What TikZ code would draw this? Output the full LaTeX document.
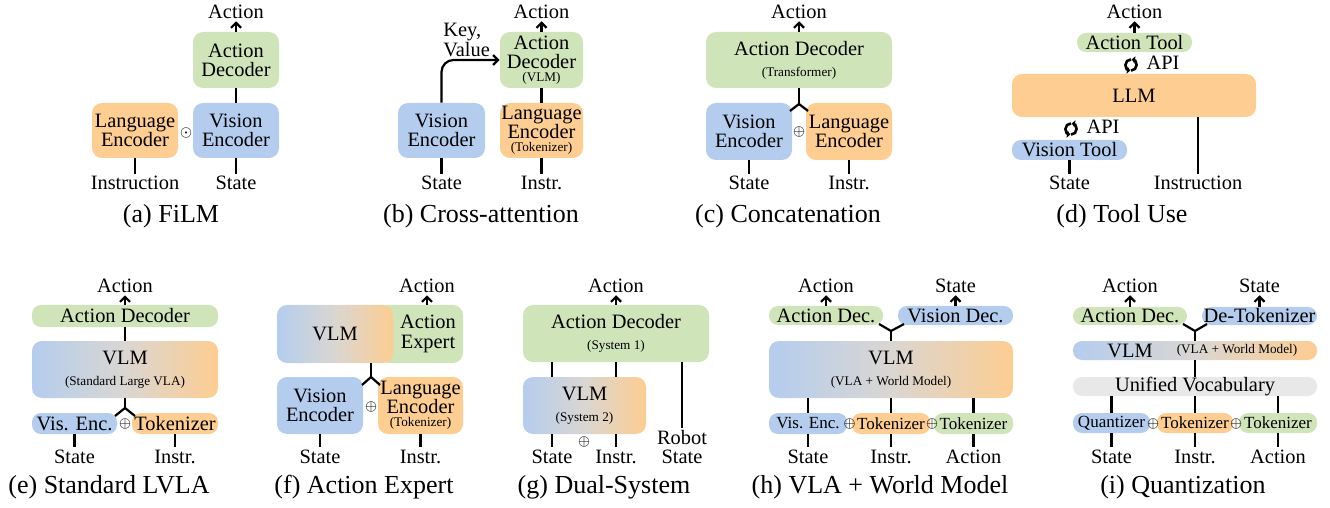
\documentclass[tikz,border=0pt]{standalone}
\usepackage{fontspec}
\setmainfont{Liberation Serif}
\usetikzlibrary{arrows.meta}
\definecolor{grn}{RGB}{208,228,186}
\definecolor{blu}{RGB}{180,205,238}
\definecolor{ora}{RGB}{253,205,145}
\definecolor{mid}{RGB}{218,214,210}
\definecolor{gry}{RGB}{232,232,232}
\newcommand\bxfont{\fontsize{10.2}{9.6}\selectfont}
\newcommand\smfont{\fontsize{8.5}{9}\selectfont}
\newcommand\sbfont{\fontsize{6.6}{7}\selectfont}
\newcommand\cpfont{\fontsize{13}{14}\selectfont}
\newcommand\opfont{\fontsize{7}{7}\selectfont}
\tikzset{
    %Define standard arrow tip
    >={Straight Barb[length=2.5pt,width=5pt]},
    %Define style for boxes
    blok/.style={
           rectangle,
           rounded corners=5pt,
           inner sep=0pt,
           align=center,
           font=\bxfont},
    pill/.style={
           blok,
           rounded corners=4.5pt},
    vlm/.style={
           left color=blu,
           right color=ora,
           middle color=mid},
    smtxt/.style={font=\smfont},
    lbl/.style={inner sep=1pt, align=center, font=\bxfont},
    capt/.style={inner sep=0pt, font=\cpfont},
    op/.style={inner sep=0pt, font=\opfont},
    % Define line styles
    lin/.style={line width=1.1pt},
    pil/.style={->, line width=1.1pt},
    icon/.style={x=1pt, y=1pt, line width=1.3pt, -{Triangle[length=1.6pt,width=3.6pt]}},
    refresh/.pic={
           \draw [icon] (90:2.8) arc (90:262:2.8);
           \draw [icon] (270:2.8) arc (270:442:2.8);}
}
\begin{document}
\begin{tikzpicture}[x=0.5pt,y=-0.5pt]
    \useasboundingbox (0,0) rectangle (1330,508);
    % (a)
    \node (a-dec) [blok, fill=grn, minimum width=43pt, minimum height=28pt] at (236,60) {Action\\Decoder};
    \node (a-vis) [blok, fill=blu, minimum width=43pt, minimum height=27.5pt] at (236,130.5) {Vision\\Encoder};
    \node (a-lang) [blok, fill=ora, minimum width=43pt, minimum height=27.5pt] at (135,130.5) {Language\\Encoder};
    \node (a-op) [op] at (186,133) {$\odot$};
    \node (a-act) [lbl] at (236,12) {Action};
    \node (a-state) [lbl] at (236,183) {State};
    \node (a-ins) [lbl] at (135,183) {Instruction};
    \node (a-cap) [capt] at (171,216) {(a) FiLM};
    \draw [pil] (a-dec) -- (a-act);
    \draw [lin] (a-vis) -- (a-dec);
    \draw [lin] (a-state) -- (a-vis);
    \draw [lin] (a-ins) -- (a-lang);
    % (b)
    \node (b-dec) [blok, fill=grn, minimum width=41.5pt, minimum height=28pt] at (541.5,60)
          {Action\\Decoder\\[-3pt]{\sbfont(VLM)}};
    \node (b-lang) [blok, fill=ora, minimum width=41.5pt, minimum height=27.5pt] at (541.5,130.5)
          {Language\\Encoder\\[-3pt]{\sbfont(Tokenizer)}};
    \node (b-vis) [blok, fill=blu, minimum width=43.5pt, minimum height=27.5pt] at (441.5,130.5) {Vision\\Encoder};
    \node (b-kv) [lbl, anchor=west, align=left, inner sep=0pt] at (443,40) {Key,\\Value};
    \node (b-act) [lbl] at (541.5,12) {Action};
    \node (b-state) [lbl] at (441.5,183) {State};
    \node (b-ins) [lbl] at (541.5,183) {Instr.};
    \node (b-cap) [capt] at (481,216) {(b) Cross-attention};
    \draw [pil] (b-dec) -- (b-act);
    \draw [lin] (b-lang) -- (b-dec);
    \draw [lin] (b-state) -- (b-vis);
    \draw [lin] (b-ins) -- (b-lang);
    \draw [pil, rounded corners=6pt] (b-vis) |- (b-dec);
    % (c)
    \node (c-dec) [blok, fill=grn, minimum width=93pt, minimum height=28pt] at (799,60)
          {Action Decoder\\[1pt]{\sbfont(Transformer)}};
    \node (c-vis) [blok, fill=blu, minimum width=43pt, minimum height=28.5pt] at (749,131.5) {Vision\\Encoder};
    \node (c-lang) [blok, fill=ora, minimum width=43pt, minimum height=28.5pt] at (849,131.5) {Language\\Encoder};
    \node (c-op) [op] at (799,132) {$\oplus$};
    \coordinate (c-fork) at (799,104);
    \coordinate (c-l) at (790,111);
    \coordinate (c-r) at (808,111);
    \node (c-act) [lbl] at (799,12) {Action};
    \node (c-state) [lbl] at (749,183) {State};
    \node (c-ins) [lbl] at (849,183) {Instr.};
    \node (c-cap) [capt] at (788,216) {(c) Concatenation};
    \draw [pil] (c-dec) -- (c-act);
    \draw [lin] (c-dec) -- (c-fork);
    \draw [lin] (c-l) -- (c-fork) -- (c-r);
    \draw [lin] (c-state) -- (c-vis);
    \draw [lin] (c-ins) -- (c-lang);
    % (d)
    \node (d-tool) [pill, fill=grn, minimum width=57.5pt, minimum height=9.5pt] at (1134.5,42.5) {Action Tool};
    \node (d-llm) [blok, fill=ora, minimum width=122pt, minimum height=21.5pt] at (1134,95.5) {LLM};
    \node (d-vtool) [pill, fill=blu, minimum width=57.5pt, minimum height=10pt] at (1069.5,150) {Vision Tool};
    \pic at (1131,65) {refresh};
    \node (d-api1) [lbl] at (1163,63) {API};
    \pic at (1071,129) {refresh};
    \node (d-api2) [lbl] at (1103,127) {API};
    \node (d-act) [lbl] at (1134.5,12) {Action};
    \node (d-state) [lbl] at (1069.5,183) {State};
    \node (d-ins) [lbl] at (1198,183) {Instruction};
    \node (d-cap) [capt] at (1122,216) {(d) Tool Use};
    \draw [pil] (d-tool) -- (d-act);
    \draw [lin] (d-state) -- (d-vtool);
    \draw [lin] (d-ins) -- (d-ins |- d-llm.south);
    % (e)
    \node (e-dec) [pill, fill=grn, minimum width=93pt, minimum height=11pt] at (125,316) {Action Decoder};
    \node (e-vlm) [blok, vlm, minimum width=93pt, minimum height=28.5pt] at (125,369.5)
          {VLM\\[1pt]{\sbfont(Standard Large VLA)}};
    \node (e-vis) [pill, fill=blu, minimum width=42.5pt, minimum height=10.5pt] at (74.5,423.5) {Vis. Enc.};
    \node (e-tok) [pill, fill=ora, minimum width=43pt, minimum height=10.5pt] at (175,423.5) {Tokenizer};
    \node (e-op) [op] at (125,424) {$\oplus$};
    \coordinate (e-fork) at (125,408);
    \coordinate (e-l) at (115,416);
    \coordinate (e-r) at (135,416);
    \node (e-act) [lbl] at (125,286) {Action};
    \node (e-state) [lbl] at (74.5,456.5) {State};
    \node (e-ins) [lbl] at (175,456.5) {Instr.};
    \node (e-cap) [capt] at (109,487) {(e) Standard LVLA};
    \draw [pil] (e-dec) -- (e-act);
    \draw [lin] (e-vlm) -- (e-dec);
    \draw [lin] (e-vlm) -- (e-fork);
    \draw [lin] (e-l) -- (e-fork) -- (e-r);
    \draw [lin] (e-state) -- (e-vis);
    \draw [lin] (e-ins) -- (e-tok);
    % (f)
    \node (f-exp) [blok, fill=grn, minimum width=42.5pt, minimum height=29pt,
          label={[lbl, xshift=3.75pt]center:Action\\Expert}] at (420.5,334) {};
    \node (f-vlm) [blok, vlm, minimum width=58pt, minimum height=29pt] at (335,334) {VLM};
    \node (f-vis) [blok, fill=blu, minimum width=43pt, minimum height=28.5pt] at (320,405.5) {Vision\\Encoder};
    \node (f-lang) [blok, fill=ora, minimum width=42.5pt, minimum height=28.5pt] at (420.5,405.5)
          {Language\\Encoder\\[-3pt]{\sbfont(Tokenizer)}};
    \node (f-op) [op] at (371,407) {$\oplus$};
    \coordinate (f-fork) at (371,377);
    \coordinate (f-l) at (362,385);
    \coordinate (f-r) at (380,385);
    \node (f-act) [lbl] at (427,286) {Action};
    \node (f-state) [lbl] at (320,456.5) {State};
    \node (f-ins) [lbl] at (420.5,456.5) {Instr.};
    \node (f-cap) [capt] at (364,487) {(f) Action Expert};
    \draw [pil] (f-act |- f-exp.north) -- (f-act);
    \draw [lin] (f-fork |- f-vlm.south) -- (f-fork);
    \draw [lin] (f-l) -- (f-fork) -- (f-r);
    \draw [lin] (f-state) -- (f-vis);
    \draw [lin] (f-ins) -- (f-lang);
    % (g)
    \node (g-dec) [blok, fill=grn, minimum width=93pt, minimum height=28.5pt] at (616,333.5)
          {Action Decoder\\[1pt]{\sbfont(System 1)}};
    \node (g-vlm) [blok, vlm, minimum width=61.5pt, minimum height=28.5pt] at (584.5,405.5)
          {VLM\\[1pt]{\sbfont(System 2)}};
    \node (g-op) [op] at (584,442) {$\oplus$};
    \node (g-act) [lbl] at (616,286) {Action};
    \node (g-state) [lbl] at (552,456.5) {State};
    \node (g-ins) [lbl] at (616,456.5) {Instr.};
    \node (g-rob) [lbl] at (682,447) {Robot\\State};
    \node (g-cap) [capt] at (604,487) {(g) Dual-System};
    \draw [pil] (g-dec) -- (g-act);
    \draw [lin] (g-state) -- (g-state |- g-vlm.south);
    \draw [lin] (g-state |- g-vlm.north) -- (g-state |- g-dec.south);
    \draw [lin] (g-ins) -- (g-ins |- g-vlm.south);
    \draw [lin] (g-ins |- g-vlm.north) -- (g-ins |- g-dec.south);
    \draw [lin] (g-rob) -- (g-rob |- g-dec.south);
    % (h)
    \node (h-adec) [pill, fill=grn, minimum width=57pt, minimum height=9.5pt] at (826,315.5) {Action Dec.};
    \node (h-vdec) [pill, fill=blu, minimum width=57.5pt, minimum height=9.5pt] at (955.5,315.5) {Vision Dec.};
    \node (h-vlm) [blok, vlm, minimum width=122pt, minimum height=28.5pt] at (891,369.5)
          {VLM\\[1pt]{\sbfont(VLA + World Model)}};
    \node (h-vis) [pill, fill=blu, smtxt, minimum width=39pt, minimum height=10.5pt] at (808,423.5) {Vis. Enc.};
    \node (h-tok1) [pill, fill=ora, smtxt, minimum width=39pt, minimum height=10.5pt] at (891,423.5) {Tokenizer};
    \node (h-tok2) [pill, fill=grn, smtxt, minimum width=39.5pt, minimum height=10.5pt] at (973.5,423.5) {Tokenizer};
    \node (h-op1) [op] at (849.5,424) {$\oplus$};
    \node (h-op2) [op] at (932,424) {$\oplus$};
    \coordinate (h-fork) at (891,331);
    \coordinate (h-l) at (879,324);
    \coordinate (h-r) at (904,324);
    \node (h-act) [lbl] at (826,286) {Action};
    \node (h-out) [lbl] at (955.5,286) {State};
    \node (h-state) [lbl] at (808,456.5) {State};
    \node (h-ins) [lbl] at (891,456.5) {Instr.};
    \node (h-aci) [lbl] at (973.5,456.5) {Action};
    \node (h-cap) [capt] at (880,487) {(h) VLA + World Model};
    \draw [pil] (h-adec) -- (h-act);
    \draw [pil] (h-vdec) -- (h-out);
    \draw [lin] (h-vlm) -- (h-fork);
    \draw [lin] (h-l) -- (h-fork) -- (h-r);
    \draw [lin] (h-state) -- (h-state |- h-vis.south);
    \draw [lin] (h-ins) -- (h-ins |- h-vis.south);
    \draw [lin] (h-aci) -- (h-aci |- h-vis.south);
    \draw [lin] (h-state |- h-vis.north) -- (h-state |- h-vlm.south);
    \draw [lin] (h-ins |- h-vis.north) -- (h-ins |- h-vlm.south);
    \draw [lin] (h-aci |- h-vis.north) -- (h-aci |- h-vlm.south);
    % (i)
    \node (i-adec) [pill, fill=grn, minimum width=57pt, minimum height=9pt] at (1130,316) {Action Dec.};
    \node (i-detok) [pill, fill=blu, minimum width=57.5pt, minimum height=9pt] at (1259.5,316) {De-Tokenizer};
    \node (i-vlm) [pill, vlm, minimum width=122pt, minimum height=9.5pt,
          label={[lbl, xshift=-32.5pt]center:VLM},
          label={[lbl, font=\sbfont, xshift=21pt]center:(VLA + World Model)}] at (1195,350.5) {};
    \node (i-voc) [pill, fill=gry, minimum width=122pt, minimum height=9.5pt] at (1195,386.5) {Unified Vocabulary};
    \node (i-q) [pill, fill=blu, smtxt, minimum width=38.5pt, minimum height=10pt] at (1111.5,423) {Quantizer};
    \node (i-tok1) [pill, fill=ora, smtxt, minimum width=38pt, minimum height=10pt] at (1195,423) {Tokenizer};
    \node (i-tok2) [pill, fill=grn, smtxt, minimum width=39pt, minimum height=10pt] at (1278,423) {Tokenizer};
    \node (i-op1) [op] at (1153,424) {$\oplus$};
    \node (i-op2) [op] at (1236,424) {$\oplus$};
    \coordinate (i-fork) at (1195,331);
    \coordinate (i-l) at (1183,324);
    \coordinate (i-r) at (1207,324);
    \node (i-act) [lbl] at (1130,286) {Action};
    \node (i-out) [lbl] at (1259.5,286) {State};
    \node (i-state) [lbl] at (1111.5,456.5) {State};
    \node (i-ins) [lbl] at (1195,456.5) {Instr.};
    \node (i-aci) [lbl] at (1278,456.5) {Action};
    \node (i-cap) [capt] at (1183,487) {(i) Quantization};
    \draw [pil] (i-adec) -- (i-act);
    \draw [pil] (i-detok) -- (i-out);
    \draw [lin] (i-vlm) -- (i-fork);
    \draw [lin] (i-l) -- (i-fork) -- (i-r);
    \draw [lin] (i-vlm) -- (i-voc);
    \draw [lin] (i-state) -- (i-state |- i-q.south);
    \draw [lin] (i-ins) -- (i-ins |- i-q.south);
    \draw [lin] (i-aci) -- (i-aci |- i-q.south);
    \draw [lin] (i-state |- i-q.north) -- (i-state |- i-voc.south);
    \draw [lin] (i-ins |- i-q.north) -- (i-ins |- i-voc.south);
    \draw [lin] (i-aci |- i-q.north) -- (i-aci |- i-voc.south);
\end{tikzpicture}
\end{document}
